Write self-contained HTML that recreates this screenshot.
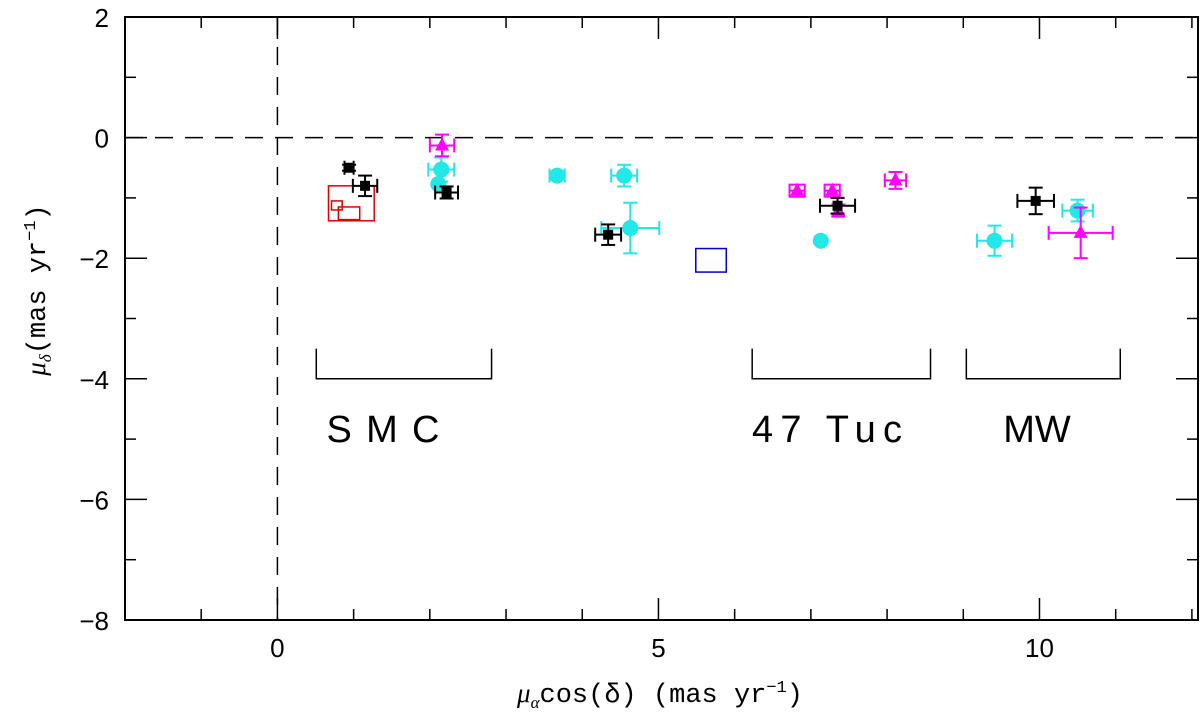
<!DOCTYPE html>
<html><head><meta charset="utf-8">
<style>
body{margin:0;background:#fff;}
svg{display:block;font-family:"Liberation Sans",sans-serif;}
</style></head>
<body>
<svg id="chart" width="1200" height="718" viewBox="0 0 1200 718" xmlns="http://www.w3.org/2000/svg">
<g id="g"></g>
</svg>
<script>
// Data arrays
const blackX=[0.94,1.15,2.22,4.34,7.35,9.95];
const blackY=[-0.5,-0.8,-0.91,-1.61,-1.13,-1.05];
const blackXe=[0.06,0.16,0.15,0.17,0.23,0.24];
const blackYe=[0.05,0.17,0.1,0.17,0.13,0.22];
const cyanX=[2.15,2.11,3.67,4.55,4.63,7.13,9.41,10.5];
const cyanY=[-0.53,-0.77,-0.63,-0.63,-1.5,-1.71,-1.71,-1.21];
const cyanXe=[0.17,0,0.1,0.17,0.38,0,0.23,0.2];
const cyanYe=[0.2,0,0.05,0.18,0.42,0,0.25,0.18];
const magX=[2.16,6.82,7.28,7.36,8.11,10.54];
const magY=[-0.13,-0.88,-0.88,-1.21,-0.71,-1.58];
const magXe=[0.16,0.1,0.1,0,0.14,0.42];
const magYe=[0.18,0.1,0.1,0.1,0.14,0.42];
const redBoxes=[[0.67,1.27,-0.8,-1.38],[0.71,0.85,-1.05,-1.2],[0.8,1.08,-1.15,-1.36]];
const blueBoxes=[[5.49,5.89,-1.84,-2.23]];
const groupNames=["SMC","47 Tuc","MW"];
const groupStart=[0.51,6.23,9.04];
const groupEnd=[2.81,8.57,11.06];
const xTicks=[0,5,10];
const yTicks=[2,0,-2,-4,-6,-8];

const X0=125,X1=1198,Y0=17,Y1=620;
const xmin=-2,xmax=12.08,ymin=-8,ymax=2;
const sx=v=>X0+(v-xmin)/(xmax-xmin)*(X1-X0);
const sy=v=>Y0+(ymax-v)/(ymax-ymin)*(Y1-Y0);
const NS="http://www.w3.org/2000/svg";
const g=document.getElementById('g');
function mk(tag,at,parent){const e=document.createElementNS(NS,tag);for(const k in at)e.setAttribute(k,at[k]);(parent||g).appendChild(e);return e;}

let fr=mk('rect',{x:X0,y:Y0,width:X1-X0,height:Y1-Y0,fill:'none',stroke:'#000','stroke-width':2});


for(let v=-2;v<=12;v++){const L=(v%5===0)?22:11;const x=sx(v);
 let t=mk('line',{x1:x,x2:x,y1:Y1,y2:Y1-L,stroke:'#000','stroke-width':1.5});
 
 
 let t2=mk('line',{x1:x,x2:x,y1:Y0,y2:Y0+L,stroke:'#000','stroke-width':1.5});
 
 }
for(let v=-8;v<=2;v++){const L=(v%2===0)?22:11;const y=sy(v);
 let t=mk('line',{x1:X0,x2:X0+L,y1:y,y2:y,stroke:'#000','stroke-width':1.5});
 
 
 let t2=mk('line',{x1:X1,x2:X1-L,y1:y,y2:y,stroke:'#000','stroke-width':1.5});
 
 }
xTicks.forEach(v=>{let t=mk('text',{x:sx(v),y:657,'text-anchor':'middle','font-size':26});t.textContent=v;
 
 });
yTicks.forEach(v=>{let t=mk('text',{x:109,y:sy(v)+10,'text-anchor':'end','font-size':26});t.textContent=(v<0?'\u2212'+(-v):v);
 
 });
let zl=mk('line',{x1:X0,x2:X1,y1:sy(0),y2:sy(0),stroke:'#000','stroke-width':1.5,'stroke-dasharray':'18,12'});


let zv=mk('line',{x1:sx(0),x2:sx(0),y1:Y0,y2:Y1,stroke:'#000','stroke-width':1.5,'stroke-dasharray':'18,12'});


function box(b,col,name){let r=mk('rect',{x:sx(b[0]),y:sy(b[2]),width:sx(b[1])-sx(b[0]),height:sy(b[3])-sy(b[2]),fill:'none',stroke:col,'stroke-width':1.5});
 
 }
redBoxes.forEach(b=>box(b,'#e00000','red-box'));
blueBoxes.forEach(b=>box(b,'#0000cc','blue-box'));
function err(x,y,xe,ye,col,parent){const cx=sx(x),cy=sy(y),c=7;
 if(xe>0){const a=sx(x-xe),b=sx(x+xe);mk('line',{x1:a,x2:b,y1:cy,y2:cy,stroke:col,'stroke-width':2},parent);
  mk('line',{x1:a,x2:a,y1:cy-c,y2:cy+c,stroke:col,'stroke-width':2},parent);mk('line',{x1:b,x2:b,y1:cy-c,y2:cy+c,stroke:col,'stroke-width':2},parent);}
 if(ye>0){const a=sy(y-ye),b=sy(y+ye);mk('line',{x1:cx,x2:cx,y1:a,y2:b,stroke:col,'stroke-width':2},parent);
  mk('line',{x1:cx-c,x2:cx+c,y1:a,y2:a,stroke:col,'stroke-width':2},parent);mk('line',{x1:cx-c,x2:cx+c,y1:b,y2:b,stroke:col,'stroke-width':2},parent);}}
cyanX.forEach((x,i)=>{const p=mk('g',{});
 
 
 err(x,cyanY[i],cyanXe[i],cyanYe[i],'#22e8e8',p);mk('circle',{cx:sx(x),cy:sy(cyanY[i]),r:8,fill:'#22e8e8'},p);});
magX.forEach((x,i)=>{const p=mk('g',{});
 
 
 err(x,magY[i],magXe[i],magYe[i],'#ff00ff',p);const cx=sx(x),cy=sy(magY[i]);
 mk('polygon',{points:`${cx},${cy-8} ${cx-7},${cy+5} ${cx+7},${cy+5}`,fill:'#ff00ff'},p);});
blackX.forEach((x,i)=>{const p=mk('g',{});
 
 
 err(x,blackY[i],blackXe[i],blackYe[i],'#000',p);mk('rect',{x:sx(x)-5,y:sy(blackY[i])-5,width:10,height:10,fill:'#000'},p);});
const labelCx=[383,827,1037];
const labelW=[113,150,0];
groupNames.forEach((n,i)=>{const p=mk('g',{});
 
 
 const a=sx(groupStart[i]),b=sx(groupEnd[i]),t=sy(-3.5),bt=sy(-4);
 mk('polyline',{points:`${a},${t} ${a},${bt} ${b},${bt} ${b},${t}`,fill:'none',stroke:'#000','stroke-width':1.5},p);
 let tx;
 if(labelW[i]>0){tx=mk('text',{x:labelCx[i]-labelW[i]/2,y:442,'font-size':38,textLength:labelW[i],lengthAdjust:'spacing'},p);}
 else{tx=mk('text',{x:labelCx[i],y:442,'font-size':38,'text-anchor':'middle'},p);}
 tx.textContent=n;});
let xt=mk('text',{x:660,y:702,'text-anchor':'middle','font-size':27,'font-family':'Liberation Mono, monospace'});


xt.innerHTML='<tspan font-family="Liberation Serif, serif" font-style="italic">μ</tspan><tspan font-size="17" dy="6" font-family="Liberation Serif, serif" font-style="italic">α</tspan><tspan dy="-6">cos(δ) (mas yr</tspan><tspan font-size="17" dy="-10">−1</tspan><tspan dy="10">)</tspan>';
let yt=mk('text',{x:0,y:0,'text-anchor':'middle','font-size':27,'font-family':'Liberation Mono, monospace',transform:'translate(45,290) rotate(-90)'});


yt.innerHTML='<tspan font-family="Liberation Serif, serif" font-style="italic">μ</tspan><tspan font-size="17" dy="6" font-family="Liberation Serif, serif" font-style="italic">δ</tspan><tspan dy="-6">(mas yr</tspan><tspan font-size="17" dy="-10">−1</tspan><tspan dy="10">)</tspan>';
</script>
</body></html>
